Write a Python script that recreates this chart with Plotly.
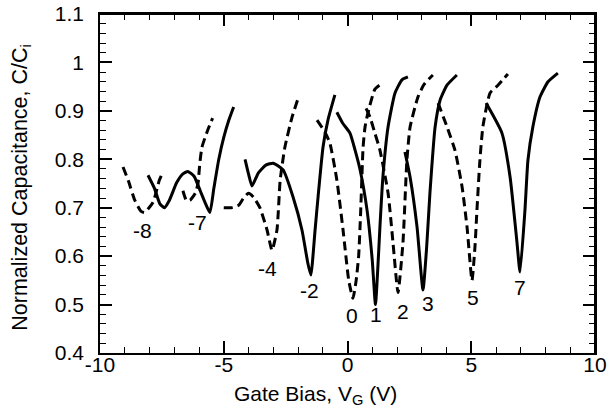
import plotly.graph_objects as go

# ---- data (Gate bias V, normalized capacitance C/Ci) ----
v_n8 = [-9.07, -8.85, -8.6, -8.35, -8.2, -8.05, -7.85, -7.6, -7.45]
c_n8 = [0.784, 0.755, 0.716, 0.693, 0.690, 0.698, 0.712, 0.757, 0.774]

v_n7 = [-8.06, -7.8, -7.58, -7.4, -7.2, -6.9, -6.65, -6.45, -6.2, -5.95, -5.75, -5.56, -5.4, -5.2, -5.0, -4.8, -4.6]
c_n7 = [0.767, 0.74, 0.708, 0.700, 0.715, 0.752, 0.770, 0.775, 0.765, 0.735, 0.71, 0.690, 0.74, 0.80, 0.845, 0.88, 0.908]

v_n6 = [-6.65, -6.5, -6.35, -6.15, -6.04, -5.97, -5.88, -5.65, -5.45]
c_n6 = [0.735, 0.714, 0.716, 0.730, 0.750, 0.790, 0.825, 0.860, 0.885]

v_n4 = [-5.0, -4.7, -4.4, -4.2, -4.0, -3.8, -3.54, -3.25, -3.05, -2.85, -2.72, -2.53, -2.24, -2.02]
c_n4 = [0.700, 0.700, 0.705, 0.720, 0.730, 0.722, 0.700, 0.654, 0.612, 0.654, 0.757, 0.825, 0.887, 0.922]

v_n2 = [-4.14, -4.0, -3.86, -3.6, -3.3, -3.0, -2.6, -2.2, -1.84, -1.6, -1.48, -1.31, -1.19, -0.99, -0.79, -0.51]
c_n2 = [0.800, 0.770, 0.745, 0.772, 0.788, 0.792, 0.778, 0.722, 0.654, 0.585, 0.561, 0.654, 0.722, 0.825, 0.881, 0.933]

v_0 = [-1.23, -0.91, -0.71, -0.43, -0.18, 0.05, 0.22, 0.35, 0.45, 0.53, 0.63, 0.71, 0.8, 1.11, 1.43]
c_0 = [0.881, 0.856, 0.833, 0.757, 0.654, 0.550, 0.513, 0.550, 0.600, 0.689, 0.825, 0.867, 0.890, 0.945, 0.958]

v_1 = [-0.43, -0.2, 0.1, 0.3, 0.51, 0.79, 1.0, 1.13, 1.25, 1.31, 1.43, 1.64, 1.92, 2.2, 2.44]
c_1 = [0.897, 0.875, 0.854, 0.820, 0.778, 0.695, 0.592, 0.500, 0.600, 0.660, 0.763, 0.867, 0.937, 0.964, 0.970]

v_2 = [0.75, 0.91, 1.1, 1.31, 1.64, 1.84, 2.04, 2.24, 2.4, 2.53, 2.85, 3.1, 3.45]
c_2 = [0.905, 0.887, 0.855, 0.819, 0.730, 0.627, 0.525, 0.627, 0.798, 0.867, 0.929, 0.955, 0.974]

v_3 = [2.32, 2.53, 2.81, 3.05, 3.2, 3.33, 3.54, 3.74, 4.02, 4.42]
c_3 = [0.815, 0.763, 0.660, 0.530, 0.620, 0.730, 0.867, 0.922, 0.953, 0.974]

v_5 = [3.66, 4.02, 4.34, 4.63, 4.83, 5.03, 5.15, 5.23, 5.35, 5.47, 5.76, 6.08, 6.48]
c_5 = [0.916, 0.867, 0.819, 0.743, 0.660, 0.550, 0.619, 0.695, 0.798, 0.867, 0.937, 0.953, 0.976]

v_7 = [5.6, 6.24, 6.57, 6.85, 6.97, 7.17, 7.29, 7.49, 7.78, 8.1, 8.5]
c_7 = [0.916, 0.854, 0.763, 0.627, 0.567, 0.695, 0.798, 0.867, 0.929, 0.960, 0.978]

label_text = ["-8", "-7", "-4", "-2", "0", "1", "2", "3", "5", "7"]
label_v = [-8.3, -6.08, -3.25, -1.52, 0.18, 1.15, 2.24, 3.25, 5.07, 6.97]
label_c = [0.652, 0.670, 0.575, 0.530, 0.478, 0.480, 0.486, 0.503, 0.515, 0.536]

x_range = [-10, 10]
y_range = [0.4, 1.1]
x_tickvals = [-10, -5, 0, 5, 10]
x_ticktext = ["-10", "-5", "0", "5", "10"]
y_tickvals = [0.4, 0.5, 0.6, 0.7, 0.8, 0.9, 1.0, 1.1]
y_ticktext = ["0.4", "0.5", "0.6", "0.7", "0.8", "0.9", "1", "1.1"]

x_title = "Gate Bias, V<sub>G</sub> (V)"
y_title = "Normalized Capacitance, C/C<sub>i</sub>"

curves = [
    (v_n8, c_n8, "dash"), (v_n7, c_n7, "solid"), (v_n6, c_n6, "dash"),
    (v_n4, c_n4, "dash"), (v_n2, c_n2, "solid"), (v_0, c_0, "dash"),
    (v_1, c_1, "solid"), (v_2, c_2, "dash"), (v_3, c_3, "solid"),
    (v_5, c_5, "dash"), (v_7, c_7, "solid"),
]

FONT = "Liberation Sans, Arial, Helvetica, sans-serif"

fig = go.Figure()
for vx, cy, style in curves:
    fig.add_trace(go.Scatter(
        x=vx, y=cy, mode="lines",
        line=dict(color="black", width=3,
                  dash="9px,5px" if style == "dash" else "solid",
                  shape="spline", smoothing=0.5),
        showlegend=False, hoverinfo="skip"))

# closing frame of the plot box (top and right edges), from the axis ranges
fig.add_trace(go.Scatter(
    x=[x_range[0], x_range[1], x_range[1]], y=[y_range[1], y_range[1], y_range[0]],
    mode="lines", line=dict(color="black", width=2), cliponaxis=False,
    showlegend=False, hoverinfo="skip"))

for t, x, y in zip(label_text, label_v, label_c):
    fig.add_annotation(x=x, y=y, text=t, showarrow=False,
                       font=dict(family=FONT, size=21, color="black"))

# axis titles as paper-anchored annotations
fig.add_annotation(xref="paper", yref="paper", x=0.436, y=-0.124,
                   xanchor="center", yanchor="middle", showarrow=False,
                   text=x_title, font=dict(family=FONT, size=21, color="black"))
fig.add_annotation(xref="paper", yref="paper", x=-0.158, y=0.49,
                   xanchor="center", yanchor="middle", showarrow=False, textangle=-90,
                   text=y_title, font=dict(family=FONT, size=21.5, color="black"))

axis_common = dict(
    showline=True, linecolor="black", linewidth=1.5, mirror="allticks",
    ticks="inside", ticklen=12, tickwidth=1.5, tickcolor="black",
    showgrid=False, zeroline=False, automargin=False,
    ticklabeloverflow="allow",
    tickfont=dict(family=FONT, size=21, color="black"),
)

x_minor = dict(ticks="inside", ticklen=6, dtick=1, tickwidth=1.2, tickcolor="black")
y_minor = dict(ticks="inside", ticklen=6, dtick=0.02, tickwidth=1.2, tickcolor="black")

fig.update_layout(
    width=608, height=420,
    margin=dict(l=100, r=13, t=14, b=67),
    paper_bgcolor="white", plot_bgcolor="white",
    xaxis=dict(range=x_range, tickmode="array", tickvals=x_tickvals, ticktext=x_ticktext,
               ticklabelstandoff=-8, minor=x_minor, **axis_common),
    yaxis=dict(range=y_range, tickmode="array", tickvals=y_tickvals, ticktext=y_ticktext,
               ticklabelstandoff=10, minor=y_minor, **axis_common),
)

fig.write_html("out.html", config={"displayModeBar": False},
               post_script="document.body.style.margin='0px';document.body.style.overflow='hidden';")
